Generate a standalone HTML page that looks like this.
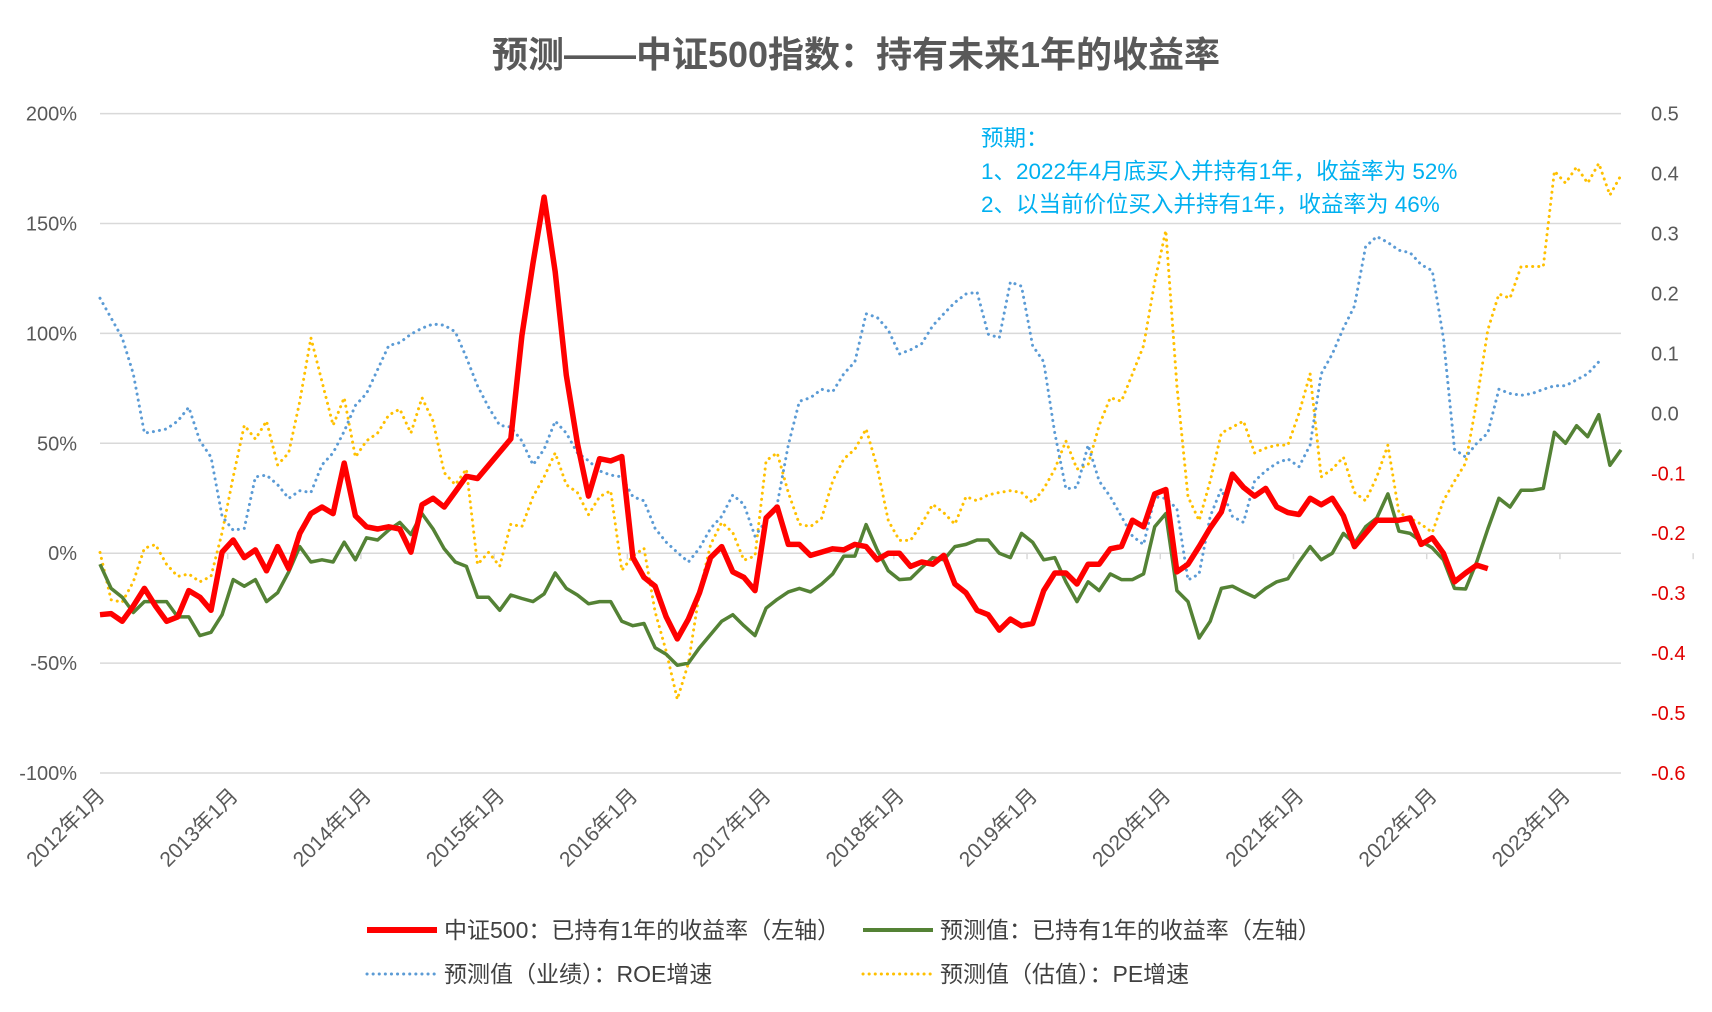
<!DOCTYPE html>
<html><head><meta charset="utf-8">
<style>
html,body{margin:0;padding:0;background:#fff;}
svg{display:block;font-family:"Liberation Sans","Noto Sans CJK SC",sans-serif;}
</style></head>
<body>
<svg id="chart" width="1712" height="1012" viewBox="0 0 1712 1012">
<text x="856" y="67" text-anchor="middle" font-size="36" font-weight="bold" fill="#595959">预测——中证500指数：持有未来1年的收益率</text>
<g id="grid"></g>
<g id="axes"></g>
<g id="series"></g>
<g font-size="22.5" fill="#00B0F0">
<text x="981" y="146">预期：</text>
<text x="981" y="179">1、2022年4月底买入并持有1年，收益率为 52%</text>
<text x="981" y="212">2、以当前价位买入并持有1年，收益率为 46%</text>
</g>
<g font-size="23" fill="#404040">
<g><line x1="367" y1="930" x2="437" y2="930" stroke="#FF0000" stroke-width="6"/><text x="444" y="938">中证500：已持有1年的收益率（左轴）</text></g>
<g><line x1="863" y1="930" x2="933" y2="930" stroke="#548235" stroke-width="4"/><text x="940" y="938">预测值：已持有1年的收益率（左轴）</text></g>
<g><line x1="367" y1="974" x2="437" y2="974" stroke="#5B9BD5" stroke-width="3" stroke-dasharray="0.1 6" stroke-linecap="round"/><text x="444" y="982">预测值（业绩）：ROE增速</text></g>
<g><line x1="863" y1="974" x2="933" y2="974" stroke="#FFC000" stroke-width="3" stroke-dasharray="0.1 6" stroke-linecap="round"/><text x="940" y="982">预测值（估值）：PE增速</text></g>
</g>
</svg>
<script>
const redValues = [-28,-27.5,-31,-24,-16,-24,-31,-29,-17,-20,-26,0.5,6,-2,1.5,-8,3,-7,9,18,21,18,41,17,12,11,12,11,0.5,22,25,21,28,35,34,40,
46,52,99,132,162,128,81,50,26,43,42,44,-2,-11,-15,-29,-39,-30,-18,-2,3,-8.5,-11,-17,16,21,4,4,-1,0.5,2,1.5,4,3,-3,
0,0,-6,-4,-5,-1,-14,-18,-26,-28,-35,-30,-33,-32,-17,-9,-9,-14,-5,-5,2,3,15,12,27,29,-8.5,-5,3,11.5,18.7,36,30,26,29.5,
21,18.5,17.6,25,22,25,17,3,9,15,15,15,16,4,7,0,-13,-9,-5.4,-7];
const greenValues = [-5,-16,-20,-27,-22,-22,-22,-29,-29,-37.5,-36,-28,-12,-15,-12,-22,-18,-8.5,3,-4,-3,-4,5,-3,7,6,10.5,14,8.5,18,11,2,-4,-6,-20,-20,
-26,-19,-20.6,-22,-18.5,-9,-16,-19,-23,-22,-22,-31,-33,-32,-43,-46,-51,-50,-43,-37,-31,-28,-33,-37.5,-25,-21,-17.6,-16,-17.6,-14,-9.4,-1.3,-1.3,13,1.5,
-8,-12,-11.6,-6.7,-2,-3,3,4,6,6,0,-2,9,5,-3,-2,-13,-22,-13,-17,-9.4,-12,-12,-9.4,12,18,-17,-22,-38.6,-31,-16,-15,-17.6,-20,-16,
-13,-11.6,-4,3,-3,0,9,4.5,12,16,27,10,9,5.4,2.4,-3,-16,-16.3,-4,11,25,21,28.6,28.6,29.5,55,50,58,53,63,40,47];
const roeValues = [.192,.159,.126,.066,-.033,-.030,-.026,-.013,.010,-.046,-.073,-.172,-.195,-.192,-.106,-.103,-.119,-.142,-.129,-.132,-.086,-.066,-.030,.013,.033,.073,.113,.118,.132,.142,.149,.147,.136,.093,.046,.010,
-.020,-.023,-.046,-.086,-.060,-.013,-.033,-.066,-.079,-.096,-.103,-.106,-.139,-.146,-.192,-.215,-.232,-.248,-.225,-.192,-.172,-.136,-.152,-.205,-.179,-.152,-.053,.020,.026,.040,.036,.066,.086,.166,.16,
.139,.099,.106,.116,.146,.166,.185,.199,.202,.132,.126,.219,.212,.113,.086,-.033,-.126,-.123,-.053,-.113,-.139,-.172,-.205,-.219,-.139,-.142,-.159,-.278,-.268,-.172,-.126,-.172,-.182,-.113,-.096,
-.083,-.076,-.089,-.053,.066,.099,.142,.179,.278,.295,.285,.272,.268,.248,.238,.126,-.060,-.073,-.050,-.033,.040,.033,.030,.033,.040,.046,.046,.056,.066,.086];
const peValues = [-.232,-.311,-.315,-.281,-.225,-.219,-.252,-.272,-.268,-.281,-.272,-.199,-.106,-.020,-.043,-.013,-.086,-.066,.020,.126,.053,-.020,.026,-.073,-.046,-.033,-.003,.007,-.033,.026,-.013,-.099,-.119,-.093,-.252,-.232,
-.255,-.185,-.189,-.139,-.106,-.066,-.119,-.132,-.169,-.139,-.129,-.262,-.238,-.225,-.331,-.397,-.477,-.417,-.298,-.219,-.182,-.199,-.245,-.238,-.079,-.066,-.132,-.185,-.189,-.175,-.113,-.076,-.060,-.026,-.09,
-.179,-.212,-.212,-.185,-.152,-.166,-.185,-.139,-.146,-.136,-.132,-.129,-.132,-.149,-.126,-.093,-.046,-.093,-.086,-.020,.026,.020,.066,.113,.219,.305,.046,-.139,-.179,-.113,-.033,-.023,-.013,-.066,-.058,
-.053,-.053,0,.066,-.106,-.093,-.073,-.132,-.146,-.106,-.053,-.166,-.175,-.185,-.199,-.146,-.113,-.083,.020,.139,.199,.192,.245,.245,.245,.404,.384,.411,.384,.417,.364,.397];
const leftTicks = [200,150,100,50,0,-50,-100];
const leftTickLabels = ["200%","150%","100%","50%","0%","-50%","-100%"];
const rightTicks = [0.5,0.4,0.3,0.2,0.1,0.0,-0.1,-0.2,-0.3,-0.4,-0.5,-0.6];
const xLabels = ["2012年1月","2013年1月","2014年1月","2015年1月","2016年1月","2017年1月","2018年1月","2019年1月","2020年1月","2021年1月","2022年1月","2023年1月"];
const nCats = 138;

const NS = "http://www.w3.org/2000/svg";
const X0 = 100, X1 = 1621, YT = 113.6, YB = 773;
function xPos(i){ return X0 + i * (X1 - X0) / (nCats - 1); }
function yLeft(v){ return YB - (v + 100) * (YB - YT) / 300; }
function yRight(v){ return YB - (v + 0.6) * (YB - YT) / 1.1; }
function mk(tag, attrs, parent){
  const e = document.createElementNS(NS, tag);
  for (const k in attrs) e.setAttribute(k, attrs[k]);
  parent.appendChild(e); return e;
}
const grid = document.getElementById('grid');
const axes = document.getElementById('axes');
const series = document.getElementById('series');

leftTicks.forEach((v, k) => {
  const y = yLeft(v);
  const gl = mk('line', {x1: X0, x2: X1, y1: y, y2: y, stroke: '#d9d9d9', 'stroke-width': 1.5}, grid);
  
  
  const t = mk('text', {x: 77, y: y + 7, 'text-anchor': 'end', 'font-size': 20, fill: '#595959'}, axes);
  t.textContent = leftTickLabels[k];
  
  
});
rightTicks.forEach(v => {
  const y = yRight(v);
  const t = mk('text', {x: 1651, y: y + 7, 'font-size': 20, fill: v < 0 ? '#E00000' : '#595959'}, axes);
  t.textContent = v.toFixed(1);
  
  
});
xLabels.forEach((lab, k) => {
  const i = k * 12;
  const x = xPos(i);
  const tk = mk('line', {x1: xPos(i + 11.5), x2: xPos(i + 11.5), y1: yLeft(0), y2: yLeft(0) + 6, stroke: '#d9d9d9', 'stroke-width': 1.5}, axes);
  
  
  const t = mk('text', {x: x + 6, y: 797, 'text-anchor': 'end', 'font-size': 21, fill: '#595959', transform: `rotate(-45 ${x + 6} 797)`}, axes);
  t.textContent = lab;
  
  
});
function drawLine(vals, yf, color, width, dotted, name){
  const d = vals.map((v, i) => (i ? 'L' : 'M') + xPos(i).toFixed(1) + ' ' + yf(v).toFixed(1)).join(' ');
  const a = {d: d, fill: 'none', stroke: color, 'stroke-width': width, 'stroke-linejoin': 'round'};
  if (dotted){ a['stroke-dasharray'] = '0.1 6'; a['stroke-linecap'] = 'round'; }
  const p = mk('path', a, series);
  
  
}
drawLine(peValues, yRight, '#FFC000', 3, true, 'pe-growth-line');
drawLine(roeValues, yRight, '#5B9BD5', 3, true, 'roe-growth-line');
drawLine(greenValues, yLeft, '#548235', 3.5, false, 'forecast-return-line');
drawLine(redValues, yLeft, '#FF0000', 5.5, false, 'csi500-return-line');
</script>
</body></html>
